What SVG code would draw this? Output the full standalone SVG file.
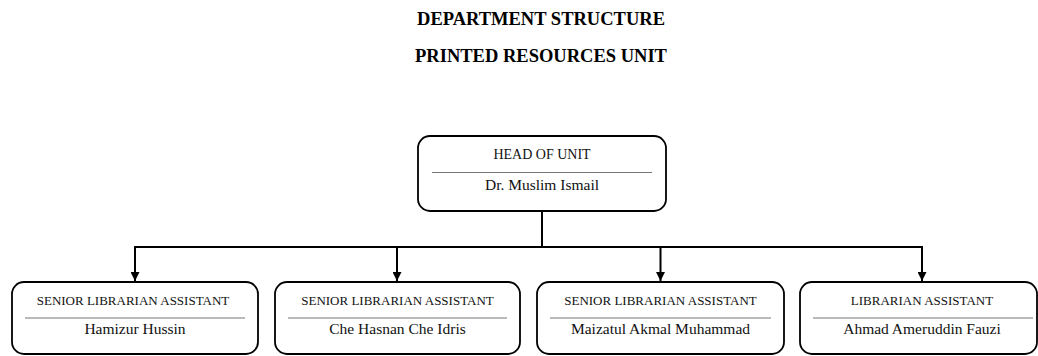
<svg xmlns="http://www.w3.org/2000/svg" width="1038" height="356" viewBox="0 0 1038 356">
  <style>
    .heading { font-family: "Liberation Serif", "Times New Roman", serif; font-weight: bold; font-size: 18.5px; fill: #000; text-anchor: middle; }
    .box { fill: #fff; stroke: #000; stroke-width: 1.8; }
    .rule { stroke: #777; stroke-width: 1.2; }
    .role { font-family: "Liberation Serif", "Times New Roman", serif; font-size: 13px; fill: #111; text-anchor: middle; }
    .head-role { font-size: 14px; }
    .name { font-family: "Liberation Serif", "Times New Roman", serif; font-size: 15.5px; fill: #111; text-anchor: middle; }
    .link { fill: none; stroke: #000; stroke-width: 2; }
  </style>
  <defs>
    <marker id="arrow" viewBox="0 0 10 10" refX="10" refY="5" markerWidth="4.5" markerHeight="4.5" orient="auto" markerUnits="strokeWidth">
      <path d="M0,0 L10,5 L0,10 z" fill="#000"/>
    </marker>
  </defs>

  <rect width="1038" height="356" fill="#fff"/>

  <text class="heading" x="541" y="25">DEPARTMENT STRUCTURE</text>
  <text class="heading" x="541" y="62">PRINTED RESOURCES UNIT</text>

  <!-- reporting lines -->
  <g id="connectors">
    <path class="link" d="M542,211 V247"/>
    <path class="link" d="M135,247 H922"/>
    <path class="link" d="M135,246 V281" marker-end="url(#arrow)"/>
    <path class="link" d="M397,247 V281" marker-end="url(#arrow)"/>
    <path class="link" d="M660.5,247 V281" marker-end="url(#arrow)"/>
    <path class="link" d="M922,246 V281" marker-end="url(#arrow)"/>
  </g>

  <g id="head-of-unit">
    <rect class="box" x="418" y="136" width="248" height="75" rx="12"/>
    <text class="role head-role" x="542" y="159">HEAD OF UNIT</text>
    <line class="rule" x1="432" y1="172.5" x2="652" y2="172.5"/>
    <text class="name" x="542" y="189.5">Dr. Muslim Ismail</text>
  </g>

  <g id="assistant-1">
    <rect class="box" x="12" y="282" width="246" height="72" rx="12"/>
    <text class="role" x="133" y="304.5">SENIOR LIBRARIAN ASSISTANT</text>
    <line class="rule" x1="25" y1="318" x2="245" y2="318"/>
    <text class="name" x="135" y="334">Hamizur Hussin</text>
  </g>

  <g id="assistant-2">
    <rect class="box" x="275" y="282" width="245" height="72" rx="12"/>
    <text class="role" x="397.5" y="304.5">SENIOR LIBRARIAN ASSISTANT</text>
    <line class="rule" x1="288" y1="318" x2="507" y2="318"/>
    <text class="name" x="397.5" y="334">Che Hasnan Che Idris</text>
  </g>

  <g id="assistant-3">
    <rect class="box" x="537" y="282" width="247" height="72" rx="12"/>
    <text class="role" x="660.5" y="304.5">SENIOR LIBRARIAN ASSISTANT</text>
    <line class="rule" x1="550" y1="318" x2="771" y2="318"/>
    <text class="name" x="660.5" y="334">Maizatul Akmal Muhammad</text>
  </g>

  <g id="assistant-4">
    <rect class="box" x="800" y="282" width="237" height="72" rx="12"/>
    <text class="role" x="922" y="304.5">LIBRARIAN ASSISTANT</text>
    <line class="rule" x1="813" y1="318" x2="1033" y2="318"/>
    <text class="name" x="922" y="334">Ahmad Ameruddin Fauzi</text>
  </g>
</svg>
